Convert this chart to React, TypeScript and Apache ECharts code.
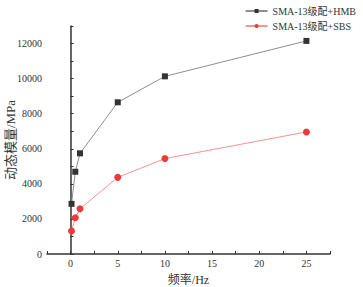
import React, { useEffect, useRef } from "react";
import * as echarts from "echarts";

const frequency = [0.1, 0.5, 1, 5, 10, 25];
const hmbValues = [2860, 4690, 5740, 8650, 10130, 12150];
const sbsValues = [1310, 2070, 2580, 4370, 5440, 6960];
const seriesNames = ["SMA-13级配+HMB", "SMA-13级配+SBS"];

const FONT = "'Liberation Serif', 'Times New Roman', 'Noto Sans CJK SC', serif";

export default function App() {
  const ref = useRef<HTMLDivElement>(null);
  useEffect(() => {
    if (!ref.current) return;
    const chart = echarts.init(ref.current, undefined, { renderer: "svg" });
    const axisLine = { show: true, lineStyle: { color: "#333", width: 1.5 } };
    chart.setOption({
      animation: false,
      backgroundColor: "#fff",
      textStyle: { fontFamily: FONT },
      legend: {
        orient: "vertical",
        right: 2,
        top: 1,
        itemWidth: 22,
        itemHeight: 5,
        itemGap: 5,
        textStyle: { fontFamily: FONT, fontSize: 10, color: "#333" },
        data: seriesNames,
      },
      grid: {
        left: 47,
        right: 33,
        top: 26,
        bottom: 33,
        containLabel: false,
        outerBoundsMode: "none",
      },
      xAxis: {
        type: "value",
        min: -2.5,
        max: 27.5,
        interval: 2.5,
        name: "频率/Hz",
        nameLocation: "middle",
        nameGap: 20,
        nameMoveOverlap: false,
        nameTextStyle: { fontFamily: FONT, fontSize: 12, color: "#333" },
        axisLine,
        axisTick: { show: true, inside: true, length: 3, lineStyle: { color: "#333" } },
        axisLabel: {
          fontFamily: FONT,
          fontSize: 10,
          color: "#333",
          margin: 4,
          formatter: (v: number) => (v >= 0 && Math.abs(v % 5) < 1e-9 ? String(v) : ""),
        },
        splitLine: { show: false },
      },
      yAxis: {
        type: "value",
        min: 0,
        max: 13000,
        interval: 1000,
        name: "动态模量/MPa",
        nameLocation: "middle",
        nameGap: 30,
        nameMoveOverlap: false,
        nameTextStyle: { fontFamily: FONT, fontSize: 13, color: "#333" },
        axisLine,
        axisTick: { show: true, inside: true, length: 3, lineStyle: { color: "#333" } },
        axisLabel: {
          fontFamily: FONT,
          fontSize: 10,
          color: "#333",
          margin: 5,
          formatter: (v: number) => (v % 2000 === 0 && v <= 12000 ? String(v) : ""),
        },
        splitLine: { show: false },
      },
      series: [
        {
          name: seriesNames[0],
          type: "line",
          data: frequency.map((f, i) => [f, hmbValues[i]]),
          symbol: "rect",
          symbolSize: 6,
          itemStyle: { color: "#333333" },
          lineStyle: { color: "#8e8e8e", width: 1 },
        },
        {
          name: seriesNames[1],
          type: "line",
          data: frequency.map((f, i) => [f, sbsValues[i]]),
          symbol: "circle",
          symbolSize: 7,
          itemStyle: { color: "#f03a3a" },
          lineStyle: { color: "#f59595", width: 1 },
        },
      ],
    });
    return () => chart.dispose();
  }, []);
  return (
    <div
      ref={ref}
      style={{ position: "absolute", left: 0, top: 0, width: 363, height: 287 }}
    />
  );
}
